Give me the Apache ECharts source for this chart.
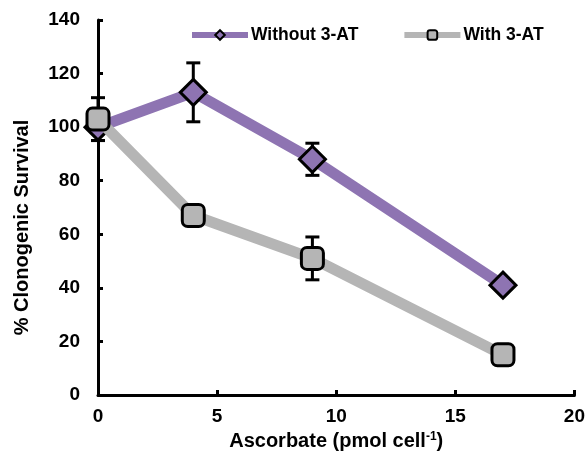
<!DOCTYPE html>
<html>
<head>
<meta charset="utf-8">
<script src="https://cdn.jsdelivr.net/npm/echarts@6/dist/echarts.min.js"></script>
<style>
  html, body { margin: 0; padding: 0; background: #fff; }
  #main { width: 588px; height: 460px; }
</style>
</head>
<body>
<div id="main"></div>
<script>
var doses = [0, 4, 9, 17];
var withoutAT = [100, 113, 88, 41];
var withoutErr = [5, 11, 6, 0];
var withAT = [103, 67, 51, 15];
var withErr = [8, 0, 8, 0];
var yTicks = [0, 20, 40, 60, 80, 100, 120, 140];

var purple = '#8e74b2';
var grey = '#b5b5b5';
var font = 'Liberation Sans, Arial, sans-serif';

function pairs(xs, ys) {
    return xs.map(function (x, i) { return [x, ys[i]]; });
}
function errData(xs, ys, es) {
    var out = [];
    xs.forEach(function (x, i) {
        if (es[i] > 0) out.push([x, ys[i] - es[i], ys[i] + es[i]]);
    });
    return out;
}

// error bars: stem + two caps
function renderErr(params, api) {
    var lo = api.coord([api.value(0), api.value(1)]);
    var hi = api.coord([api.value(0), api.value(2)]);
    var w = 7;
    var st = { stroke: '#000', lineWidth: 3 };
    return {
        type: 'group',
        children: [
            { type: 'line', shape: { x1: lo[0], y1: lo[1], x2: hi[0], y2: hi[1] }, style: st },
            { type: 'line', shape: { x1: lo[0] - w, y1: lo[1], x2: lo[0] + w, y2: lo[1] }, style: st },
            { type: 'line', shape: { x1: hi[0] - w, y1: hi[1], x2: hi[0] + w, y2: hi[1] }, style: st }
        ]
    };
}

var myChart = echarts.init(document.getElementById('main'));

var option = {
    animation: false,
    backgroundColor: '#fff',
    grid: { left: 98, right: 13, top: 20, bottom: 65 },
    legend: {
        top: 21,
        left: 184,
        itemWidth: 56,
        itemHeight: 12,
        itemGap: 43,
        lineStyle: { width: 6 },
        textStyle: { fontFamily: font, fontWeight: 'bold', fontSize: 17.5, color: '#000', padding: [0, 0, 0, -2] },
        data: ['Without 3-AT', 'With 3-AT']
    },
    xAxis: {
        type: 'value',
        min: 0, max: 20, interval: 5,
        name: 'Ascorbate (pmol cell{sup|-1})',
        nameLocation: 'middle',
        nameGap: 36,
        nameTextStyle: {
            fontFamily: font, fontWeight: 'bold', fontSize: 20, color: '#000',
            rich: { sup: { fontFamily: font, fontWeight: 'bold', fontSize: 12, color: '#000', padding: [0, 0, 9, 0] } }
        },
        axisLine: { lineStyle: { color: '#000', width: 3 } },
        axisTick: { inside: true, length: 5, lineStyle: { color: '#000', width: 3 } },
        axisLabel: { fontFamily: font, fontWeight: 'bold', fontSize: 19, color: '#000', margin: 12 },
        splitLine: { show: false }
    },
    yAxis: {
        type: 'value',
        min: yTicks[0], max: yTicks[yTicks.length - 1], interval: 20,
        name: '% Clonogenic Survival',
        nameLocation: 'middle',
        nameGap: 66,
        nameTextStyle: { fontFamily: font, fontWeight: 'bold', fontSize: 20, color: '#000', padding: [0, 40, 0, 0] },
        axisLine: { lineStyle: { color: '#000', width: 3 } },
        axisTick: { inside: true, length: 5, lineStyle: { color: '#000', width: 3 } },
        axisLabel: { fontFamily: font, fontWeight: 'bold', fontSize: 19, color: '#000', margin: 18 },
        splitLine: { show: false }
    },
    series: [
        {
            type: 'custom',
            renderItem: renderErr,
            data: errData(doses, withoutAT, withoutErr),
            z: 1,
            silent: true
        },
        {
            type: 'custom',
            renderItem: renderErr,
            data: errData(doses, withAT, withErr),
            z: 1,
            silent: true
        },
        {
            name: 'Without 3-AT',
            type: 'line',
            data: pairs(doses, withoutAT),
            symbol: 'diamond',
            symbolSize: [26, 26],
            lineStyle: { color: purple, width: 11 },
            itemStyle: { color: purple, borderColor: '#000', borderWidth: 3 },
            z: 2
        },
        {
            name: 'With 3-AT',
            type: 'line',
            data: pairs(doses, withAT),
            symbol: 'roundRect',
            symbolSize: [22, 22],
            lineStyle: { color: grey, width: 11 },
            itemStyle: { color: grey, borderColor: '#000', borderWidth: 3 },
            z: 3
        }
    ]
};

myChart.setOption(option);
</script>
</body>
</html>
